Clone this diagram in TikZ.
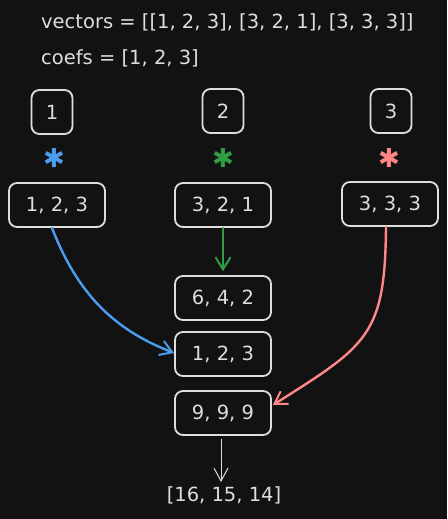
\documentclass[tikz,border=0pt]{standalone}
\usepackage{fontspec}
\setmainfont{DejaVu Sans}
\usetikzlibrary{arrows.meta}
\definecolor{bg}{HTML}{121212}
\definecolor{fg}{HTML}{DEDEDE}
\definecolor{cblue}{HTML}{4A9EED}
\definecolor{cgreen}{HTML}{2F9E44}
\definecolor{cred}{HTML}{FF8787}
\begin{document}
\begin{tikzpicture}[x=1pt,y=-1pt,
  box/.style={draw=fg, line width=1.8pt, rounded corners=8pt, text=fg,
    font=\fontsize{19.5}{22}\selectfont, minimum height=44pt, inner sep=0pt},
  smallbox/.style={box, minimum width=41pt},
  vecbox/.style={box, minimum width=96pt},
  label/.style={text=fg, font=\fontsize{19.5}{22}\selectfont, inner sep=0pt},
  star/.style={inner sep=0pt, font=\fontsize{26}{26}\selectfont},
  conn/.style={line width=2.4pt, line cap=round, -{Straight Barb[length=12pt,width=15pt,line width=2pt]}}
]
\fill[bg] (0,0) rectangle (447,519);
\useasboundingbox (0,0) rectangle (447,519);

\node[label, anchor=west] (vec) at (41,22) {vectors = [[1, 2, 3], [3, 2, 1], [3, 3, 3]]};
\node[label, anchor=west] (coef) at (41,58) {coefs = [1, 2, 3]};

\node[smallbox] (c1) at (52,112) {1};
\node[smallbox] (c2) at (223,111) {2};
\node[smallbox] (c3) at (391,111) {3};

\node[star, text=cblue] (s1) at (54,158) {✱};
\node[star, text=cgreen] (s2) at (223,158) {✱};
\node[star, text=cred] (s3) at (389,158) {✱};

\node[vecbox] (v1) at (57,205) {1, 2, 3};
\node[vecbox] (v2) at (223,205) {3, 2, 1};
\node[vecbox] (v3) at (390,204) {3, 3, 3};

\node[vecbox] (p2) at (223,298) {6, 4, 2};
\node[vecbox] (p1) at (223,354) {1, 2, 3};
\node[vecbox] (p3) at (223,413) {9, 9, 9};

\node[label] (res) at (224,495) {[16, 15, 14]};

\draw[conn, cgreen] (v2.south) -- ([yshift=4pt]p2.north);
\draw[conn, cblue] ([xshift=-5pt]v1.south) .. controls (78,295) and (115,330) .. ([yshift=1pt]p1.west);
\draw[conn, cred] ([xshift=-4pt]v3.south) .. controls (385,335) and (368,345) .. ([xshift=1pt,yshift=8pt]p3.east);
\draw[line width=1pt, fg, -{Straight Barb[length=13pt,width=14pt,line width=1pt]}] ([xshift=-2pt,yshift=-3pt]p3.south) -- ([xshift=-3pt,yshift=4pt]res.north);
\end{tikzpicture}
\end{document}
